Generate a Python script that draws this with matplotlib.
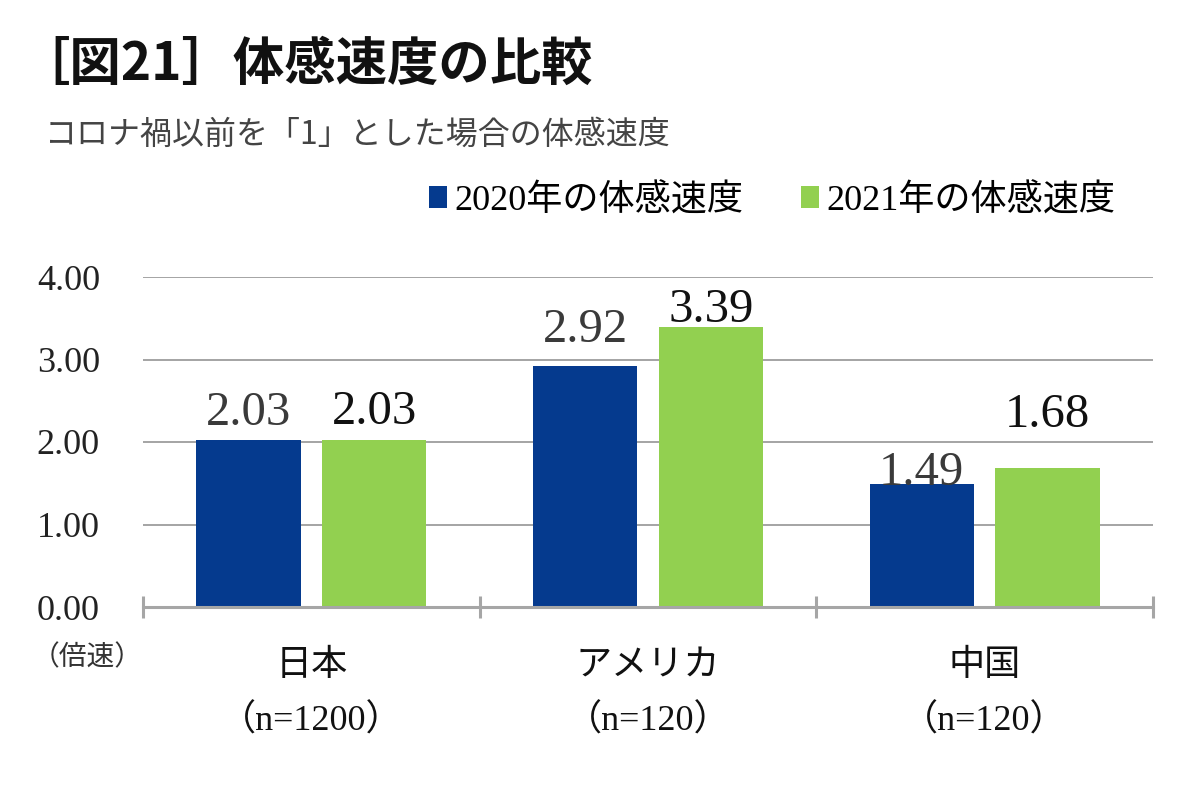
import matplotlib
matplotlib.use("Agg")
import matplotlib.pyplot as plt
import numpy as np
from matplotlib.patches import Patch

# ---- data ----
categories = ["日本", "アメリカ", "中国"]
sample_sizes = ["（n=1200）", "（n=120）", "（n=120）"]
series_names = ["2020年の体感速度", "2021年の体感速度"]
speed_2020 = [2.03, 2.92, 1.49]
speed_2021 = [2.03, 3.39, 1.68]
y_ticks = [0.0, 1.0, 2.0, 3.0, 4.0]

title = "［図21］体感速度の比較"
subtitle = "コロナ禍以前を「1」とした場合の体感速度"
unit_label = "（倍速）"

# ---- style ----
BLUE = "#053A8E"
GREEN = "#92D050"
GRID = "#959595"
AXIS = "#A6A6A6"
MIX = ["Liberation Serif", "Noto Sans CJK JP", "DejaVu Sans"]
CJK = ["Noto Sans CJK JP", "Liberation Serif", "DejaVu Sans"]
plt.rcParams["font.family"] = MIX

fig = plt.figure(figsize=(12, 7.87), dpi=100)
ax = fig.add_axes([143 / 1200, 1 - 607 / 787, (1153 - 143) / 1200, 330 / 787])

x = np.arange(len(categories))
w = 0.31
off = 0.187
b1 = ax.bar(x - off, speed_2020, w, color=BLUE, zorder=3)
b2 = ax.bar(x + off, speed_2021, w, color=GREEN, zorder=3)

# label offsets (pixels above bar top), per bar
lab_off_2020 = [15, 24, -1]
lab_off_2021 = [16, 5, 41]
for rect, v, o in zip(b1, speed_2020, lab_off_2020):
    ax.annotate(f"{v:.2f}", (rect.get_x() + rect.get_width() / 2, v),
                xytext=(0, o * 0.72), textcoords="offset points",
                ha="center", va="baseline", fontsize=35, color="#3A3A3A",
                family=MIX, zorder=4)
for rect, v, o in zip(b2, speed_2021, lab_off_2021):
    ax.annotate(f"{v:.2f}", (rect.get_x() + rect.get_width() / 2, v),
                xytext=(0, o * 0.72), textcoords="offset points",
                ha="center", va="baseline", fontsize=35, color="#111111",
                family=MIX, zorder=4)

ax.set_xlim(-0.5, len(categories) - 0.5)
ax.set_ylim(0, 4.0)
ax.set_yticks(y_ticks)
ax.set_yticklabels([f"{t:.2f}" for t in y_ticks], fontsize=26, color="#222222")
ax.tick_params(axis="y", length=0, pad=31)
ax.set_xticks(np.arange(-0.5, len(categories), 1.0))
ax.set_xticklabels([])
ax.tick_params(axis="x", direction="inout", length=16.5, width=2.2, color=AXIS)

ax.yaxis.grid(True, color=GRID, linewidth=1.2, zorder=0)
ax.set_axisbelow(True)
for s in ["top", "right", "left"]:
    ax.spines[s].set_visible(False)
ax.spines["bottom"].set_color(AXIS)
ax.spines["bottom"].set_linewidth(2.2)
ax.spines["bottom"].set_zorder(5)

trans = ax.get_xaxis_transform()
for i, (c, n) in enumerate(zip(categories, sample_sizes)):
    ax.text(i, -0.176, c, transform=trans, ha="center", va="center",
            fontsize=26, family=CJK, color="#111111")
    ax.text(i, -0.345, n, transform=trans, ha="center", va="center",
            fontsize=26, family=MIX, color="#111111")

fig.text(32 / 1200, 1 - 657 / 787, unit_label, ha="left", va="center",
         fontsize=20, family=CJK, color="#333333")

fig.text(18 / 1200, 1 - 64 / 787, title, ha="left", va="center",
         fontsize=37, fontweight="bold", family=CJK, color="#111111")
fig.text(45 / 1200, 1 - 135 / 787, subtitle, ha="left", va="center",
         fontsize=23, family=CJK, color="#444444")

handles = [Patch(facecolor=BLUE), Patch(facecolor=GREEN)]
leg = fig.legend(handles, series_names, loc="center", ncol=2,
                 bbox_to_anchor=(772 / 1200, 1 - 201 / 787), frameon=False,
                 handlelength=0.5, handleheight=0.55, handletextpad=0.2,
                 columnspacing=1.6, prop={"family": MIX, "size": 26})

fig.savefig("out.png", dpi=100)
